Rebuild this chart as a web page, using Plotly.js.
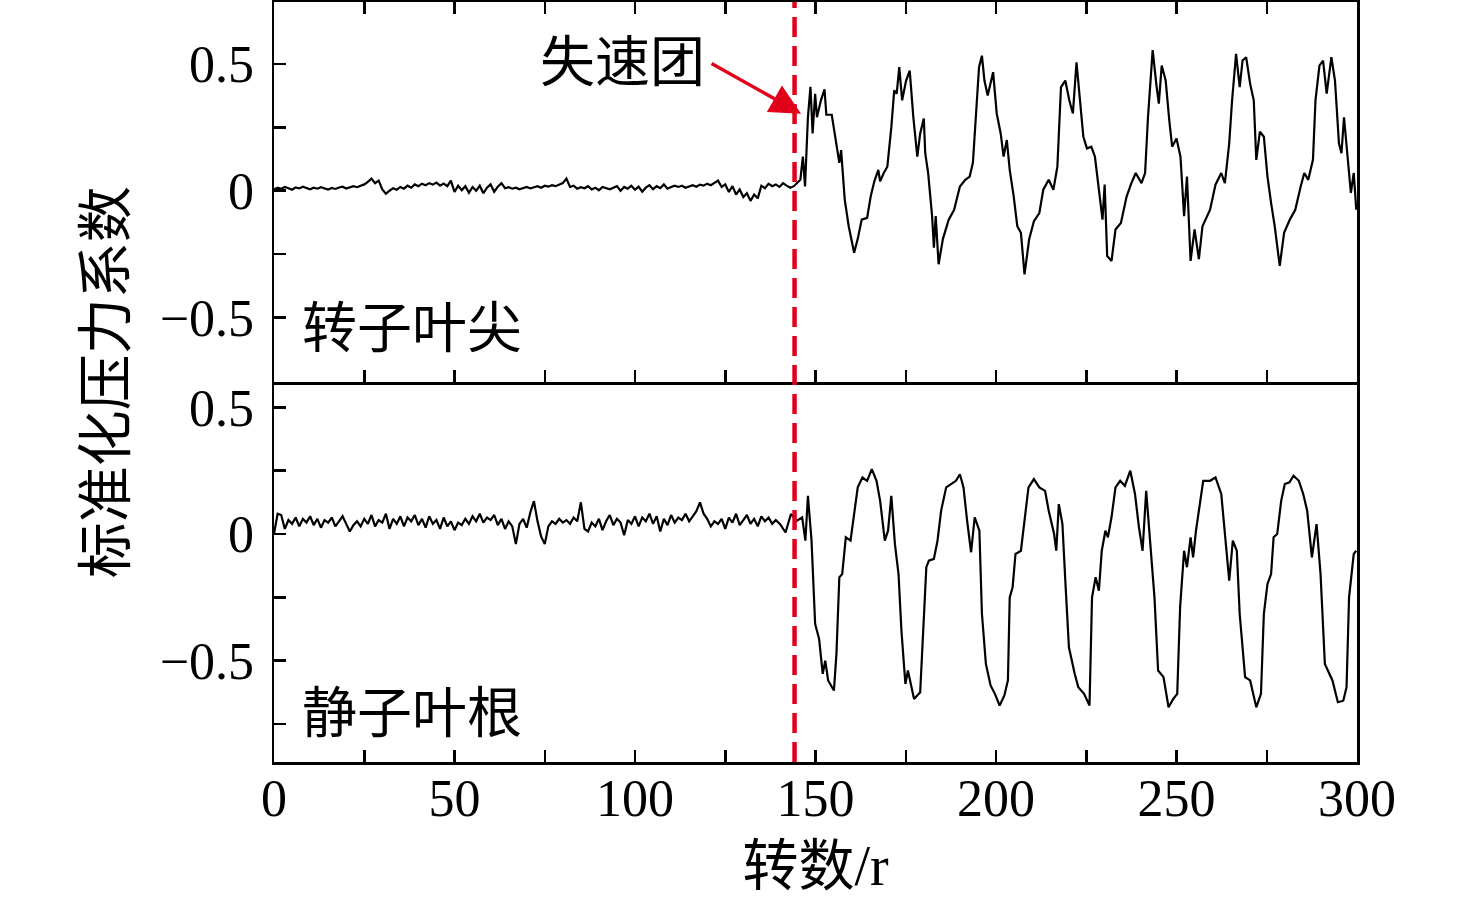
<!DOCTYPE html>
<html>
<head>
<meta charset="utf-8">
<script src="https://cdn.plot.ly/plotly-3.0.1.min.js"></script>
<style>html,body{margin:0;padding:0;background:#fff;}#chart{width:1476px;height:908px;}</style>
</head>
<body>
<div id="chart"></div>
<script>
// ---- data ----
const preRev = [0,1,2,3,4,5,6,7,8,9,10,11,12,13,14,15,16,17,18,19,20,21,22,23,24,25,26,27,28,29,30,31,32,33,34,35,36,37,38,39,40,41,42,43,44,45,46,47,48,49,50,51,52,53,54,55,56,57,58,59,60,61,62,63,64,65,66,67,68,69,70,71,72,73,74,75,76,77,78,79,80,81,82,83,84,85,86,87,88,89,90,91,92,93,94,95,96,97,98,99,100,101,102,103,104,105,106,107,108,109,110,111,112,113,114,115,116,117,118,119,120,121,122,123,124,125,126,127,128,129,130,131,132,133,134,135,136,137,138,139,140,141,142,143,144];

// 转子叶尖 (rotor tip), before stall: r = 0..144
const rotorPreVal = [0.005,0.012,0.008,0.015,0.010,0.004,0.013,0.009,0.016,0.011,0.006,0.012,0.008,0.014,0.010,0.005,0.011,0.007,0.013,0.016,0.009,0.012,0.018,0.014,0.020,
 0.025,0.035,0.048,0.030,0.040,
 0.005,-0.012,0.000,
 0.010,0.004,0.015,0.008,0.020,0.012,0.025,0.018,0.028,0.022,0.030,0.024,0.032,0.020,0.028,0.018,
 0.040,-0.005,
 0.020,0.002,0.018,-0.008,0.015,0.000,0.020,-0.010,0.012,0.025,-0.004,0.016,0.030,
 0.010,0.014,0.008,0.012,0.006,0.010,0.015,0.009,0.013,0.018,0.012,0.020,0.016,0.022,0.018,0.025,0.030,
 0.048,
 0.015,0.020,0.008,0.014,0.010,0.018,0.005,0.012,0.002,0.015,0.010,0.006,0.012,
 0.018,0.000,0.015,0.008,0.020,0.004,0.016,-0.004,0.012,0.022,0.006,0.018,0.010,0.025,0.008,0.015,0.020,
 0.015,0.020,0.012,0.018,0.022,0.016,0.024,0.020,0.028,0.022,0.030,0.040,
 0.015,0.025,-0.005,0.018,-0.015,0.005,-0.025,-0.010,-0.040,-0.015,-0.030,
 0.020,0.010,0.028,0.018,0.025,0.015,0.030,0.020,0.012,0.018];

// 转子叶尖 after stall
const rotorPostRev = [145.8,146.5,147.1,147.9,148.6,149.2,149.9,150.4,151.5,152.5,
 153,154.5,155.6,156.6,157.1,158.1,159.2,160.7,161.7,162.8,
 164.3,165.3,166.3,167.4,167.9,168.9,169.9,171,171.8,172.5,
 173.2,174,175.1,176.1,177.1,178.2,179,180,180.4,181.2,
 182.3,182.8,183.3,184.1,185.3,186.9,188.4,190,191.5,192.7,
 193.6,194.6,195.3,196.1,196.8,197.7,199.2,200.2,201.3,202.1,
 203,203.8,204.9,205.9,206.9,207.9,209.2,210.5,212,213.1,
 214.6,215.9,217,218,219.2,220.3,221.3,222.3,223.1,224.2,
 225.2,226.4,227.4,228.5,229.5,230.1,230.8,232,233.1,234.6,
 236.2,237.5,238.7,240.3,241.3,242.1,243.4,244.4,245.1,245.9,
 247,248,248.8,250,251.1,252.1,252.9,253.9,255,256.2,
 257.2,259.3,260.8,262.4,263.4,264.6,265.4,266.5,267.5,268.3,
 269.3,270.4,271.4,272.1,273.1,274.2,275.2,276.2,277.2,278.6,
 279.8,281.4,282.9,284.4,285.4,286.5,287.8,288.5,289.6,290.6,
 291.6,292.9,293.9,295,295.7,296.4,297.3,298.3,299.1,299.8];
const rotorPostVal = [0.043,0.135,0.017,0.29,0.41,0.226,0.383,0.29,0.357,0.40,
 0.30,0.30,0.20,0.11,0.16,-0.035,-0.14,-0.245,-0.19,-0.114,
 -0.107,-0.022,0.037,0.082,0.037,0.07,0.095,0.25,0.396,0.383,
 0.488,0.357,0.435,0.474,0.29,0.135,0.226,0.285,0.148,0.07,
 -0.1,-0.225,-0.1,-0.29,-0.19,-0.114,-0.075,0.017,0.043,0.056,
 0.11,0.357,0.488,0.533,0.435,0.376,0.468,0.305,0.226,0.135,
 0.20,0.082,-0.022,-0.14,-0.166,-0.33,-0.19,-0.12,-0.088,0.004,
 0.043,0.004,0.095,0.409,0.435,0.357,0.305,0.507,0.37,0.213,
 0.167,0.174,0.135,0.004,-0.114,0.024,-0.258,-0.277,-0.153,-0.127,
 -0.022,0.03,0.07,0.03,0.07,0.29,0.555,0.422,0.344,0.494,
 0.435,0.278,0.174,0.206,0.135,-0.1,0.056,-0.277,-0.153,-0.27,
 -0.14,-0.075,0.024,0.07,0.03,0.187,0.357,0.540,0.409,0.514,
 0.527,0.422,0.357,0.122,0.233,0.213,0.056,-0.048,-0.14,-0.297,
 -0.166,-0.114,-0.075,0.017,0.07,0.043,0.122,0.357,0.494,0.514,
 0.383,0.527,0.435,0.187,0.148,0.29,0.135,-0.009,0.07,-0.075];

// 静子叶根 (stator hub), before stall: r = 0..139
const statorPreVal = [0.000,0.080,0.075,0.020,0.055,0.040,0.065,0.030,0.060,0.045,0.070,0.035,0.060,0.025,0.055,0.045,0.065,0.030,0.050,0.070,0.040,
 0.010,0.035,0.050,0.030,0.060,0.040,0.075,0.030,0.055,0.045,0.080,0.020,0.060,0.040,0.070,0.030,0.065,0.050,0.075,0.035,
 0.060,0.025,0.070,0.040,0.055,0.020,0.065,0.030,0.050,0.015,0.045,0.035,0.060,0.040,0.070,0.050,0.080,0.045,0.065,0.055,
 0.075,0.035,0.060,0.020,0.050,0.030,-0.040,0.040,0.060,0.025,0.085,0.130,0.050,-0.010,-0.040,0.030,0.050,0.040,0.060,0.045,
 0.055,0.040,0.065,0.050,0.125,0.020,0.010,0.045,0.030,0.060,0.015,0.050,0.075,0.035,0.060,0.045,-0.005,0.055,0.040,0.070,
 0.030,0.065,0.050,0.080,0.040,0.070,0.010,0.060,0.035,0.075,0.045,0.065,0.055,0.080,0.050,0.070,0.090,0.125,0.080,0.060,
 0.030,0.050,0.040,0.060,0.020,0.065,0.045,0.080,0.035,0.055,0.075,0.040,0.060,0.030,0.070,0.050,0.065,0.040,0.055];

// 静子叶根 after r = 140
const statorPostRev = [140.2,141.7,143.2,144.8,146.3,147.2,147.9,148.9,149.9,151,
 152,152.7,153.5,155.1,155.8,156.6,157.4,158.4,159.7,160.7,
 161.7,163,164.3,165.6,166.9,167.9,169.2,170.1,171,172,
 173,173.8,174.9,175.6,177.3,179,180,180.7,181.4,182.8,
 183.8,184.8,186.2,187.4,188.9,190,191,192,193.1,194.1,
 195.4,196.1,197.2,198.5,199.7,201,202.3,203.3,203.8,204.6,
 205.4,206.9,207.9,209,210.5,212,213.6,214.6,216.1,216.7,
 217.4,218.4,219.2,220.2,221.8,222.8,224.4,225.9,226.6,227.6,
 228.5,229.3,230.3,231,232,233.1,234.4,235.7,237.2,238.5,
 239.6,240.6,241.6,242.6,243.9,244.9,246.4,247.8,249.1,250.2,
 251,252.1,252.9,253.9,254.6,255.4,256.2,257.4,259.3,260.8,
 262.4,263.4,264.6,265.6,266.7,267.5,269,270.4,272.1,273.4,
 274.2,275.2,276.2,276.9,277.9,279,280,281.3,282.4,283.9,
 285.1,286.2,287.5,288.8,289.9,291.1,293.2,294.7,296.2,297.1,
 297.8,298.3,299.1,299.8];
const statorPostVal = [0.039,0.006,0.079,0.052,0.066,-0.026,0.151,-0.026,-0.355,-0.414,
 -0.552,-0.50,-0.578,-0.618,-0.473,-0.171,-0.158,-0.013,-0.026,0.079,
 0.184,0.223,0.21,0.256,0.21,0.131,-0.026,0.013,0.151,-0.04,
 -0.158,-0.381,-0.592,-0.539,-0.651,-0.625,-0.315,-0.131,-0.105,-0.098,
 -0.026,0.092,0.184,0.197,0.21,0.236,0.184,0.052,-0.072,0.066,
 0.013,-0.315,-0.513,-0.598,-0.631,-0.677,-0.638,-0.578,-0.25,-0.21,
 -0.079,-0.066,0.052,0.184,0.217,0.184,0.17,0.092,0.0,-0.066,
 0.118,0.039,-0.184,-0.447,-0.552,-0.605,-0.631,-0.677,-0.25,-0.171,
 -0.224,-0.066,0.013,-0.013,0.066,0.184,0.21,0.19,0.25,0.158,
 0.026,-0.066,0.17,-0.026,-0.25,-0.539,-0.565,-0.684,-0.651,-0.631,
 -0.289,-0.066,-0.131,-0.013,-0.092,0.013,0.092,0.21,0.21,0.223,
 0.158,-0.013,-0.184,-0.026,-0.066,-0.315,-0.565,-0.578,-0.684,-0.631,
 -0.315,-0.197,-0.158,-0.013,0.0,0.131,0.197,0.204,0.23,0.21,
 0.158,0.092,-0.092,0.039,-0.158,-0.513,-0.578,-0.664,-0.658,-0.605,
 -0.25,-0.184,-0.079,-0.066];

const stallRev = 144.2;
const xTickVals = [0,25,50,75,100,125,150,175,200,225,250,275,300];
const xTickText = ['0','','50','','100','','150','','200','','250','','300'];
const yTickValsTop = [-0.5,-0.25,0,0.25,0.5];
const yTickTextTop = ['\u22120.5','','0','','0.5'];
const yTickValsBot = [-0.75,-0.5,-0.25,0,0.25,0.5];
const yTickTextBot = ['','\u22120.5','','0','','0.5'];
const labels = {yTitle:'标准化压力系数', xTitle:'转数/r', top:'转子叶尖', bottom:'静子叶根', stall:'失速团'};

// ---- build ----
const rotorRev = preRev.concat(rotorPostRev);
const rotorVal = rotorPreVal.concat(rotorPostVal);
const statorRev = preRev.slice(0, statorPreVal.length).concat(statorPostRev);
const statorVal = statorPreVal.concat(statorPostVal);

const FONT = 'Liberation Serif, "Times New Roman", "Noto Sans CJK SC", serif';
const RED = '#e3001b';

const axisCommon = {
  showline:true, linecolor:'#000', linewidth:2.5,
  ticks:'inside', ticklen:12, tickwidth:2.5, tickcolor:'#000',
  showgrid:false, zeroline:false,
  tickfont:{family:FONT, size:52, color:'#000'}
};

const traces = [
  {x:statorRev, y:statorVal, xaxis:'x', yaxis:'y', type:'scatter', mode:'lines',
   line:{color:'#000', width:2.2}, hoverinfo:'skip', name:labels.bottom},
  {x:rotorRev, y:rotorVal, xaxis:'x2', yaxis:'y2', type:'scatter', mode:'lines',
   line:{color:'#000', width:2.2}, hoverinfo:'skip', name:labels.top}
];

const layout = {
  width:1476, height:908,
  margin:{l:274, r:119, t:2, b:146},
  paper_bgcolor:'#fff', plot_bgcolor:'#fff',
  showlegend:false,
  font:{family:FONT, color:'#000'},
  xaxis:Object.assign({}, axisCommon, {
    domain:[0,1], anchor:'y', range:[0,300],
    tickmode:'array', tickvals:xTickVals, ticktext:xTickText,
    mirror:false, ticklabelstandoff:-11,
    title:{text:labels.xTitle, font:{family:FONT, size:56, color:'#000'}, standoff:20}
  }),
  xaxis2:Object.assign({}, axisCommon, {
    domain:[0,1], anchor:'y2', matches:'x', range:[0,300],
    tickmode:'array', tickvals:xTickVals, ticktext:xTickText,
    showticklabels:false, mirror:'ticks'
  }),
  yaxis:Object.assign({}, axisCommon, {
    domain:[0,0.5], anchor:'x', range:[-0.9,0.6],
    tickmode:'array', tickvals:yTickValsBot, ticktext:yTickTextBot,
    mirror:true, ticklabelstandoff:7
  }),
  yaxis2:Object.assign({}, axisCommon, {
    domain:[0.5,1], anchor:'x2', range:[-0.755,0.745],
    tickmode:'array', tickvals:yTickValsTop, ticktext:yTickTextTop,
    mirror:true, ticklabelstandoff:7
  }),
  shapes:[
    {type:'line', xref:'x', yref:'paper', x0:stallRev, x1:stallRev, y0:0, y1:1,
     line:{color:RED, width:4.5, dash:'20px,9px'}, layer:'above'}
  ],
  annotations:[
    {xref:'x2', yref:'y2', x:146.0, y:0.304, axref:'x2', ayref:'y2', ax:120.8, ay:0.506,
     text:'', showarrow:true, arrowhead:2, arrowsize:1.8, arrowwidth:3.4, arrowcolor:RED, standoff:0},
    {xref:'x2', yref:'y2', x:96.4, y:0.506, text:labels.stall, showarrow:false,
     xanchor:'center', yanchor:'middle', font:{family:FONT, size:55, color:'#000'}},
    {xref:'x2', yref:'y2', x:7.2, y:-0.545, text:labels.top, showarrow:false,
     xanchor:'left', yanchor:'middle', font:{family:FONT, size:55, color:'#000'}},
    {xref:'x', yref:'y', x:7.2, y:-0.709, text:labels.bottom, showarrow:false,
     xanchor:'left', yanchor:'middle', font:{family:FONT, size:55, color:'#000'}},
    {xref:'paper', yref:'paper', x:-0.155, y:0.5, text:labels.yTitle, showarrow:false,
     textangle:-90, xanchor:'center', yanchor:'middle', font:{family:FONT, size:56, color:'#000'}}
  ]
};

Plotly.newPlot('chart', traces, layout, {displayModeBar:false, staticPlot:true});
</script>
</body>
</html>
